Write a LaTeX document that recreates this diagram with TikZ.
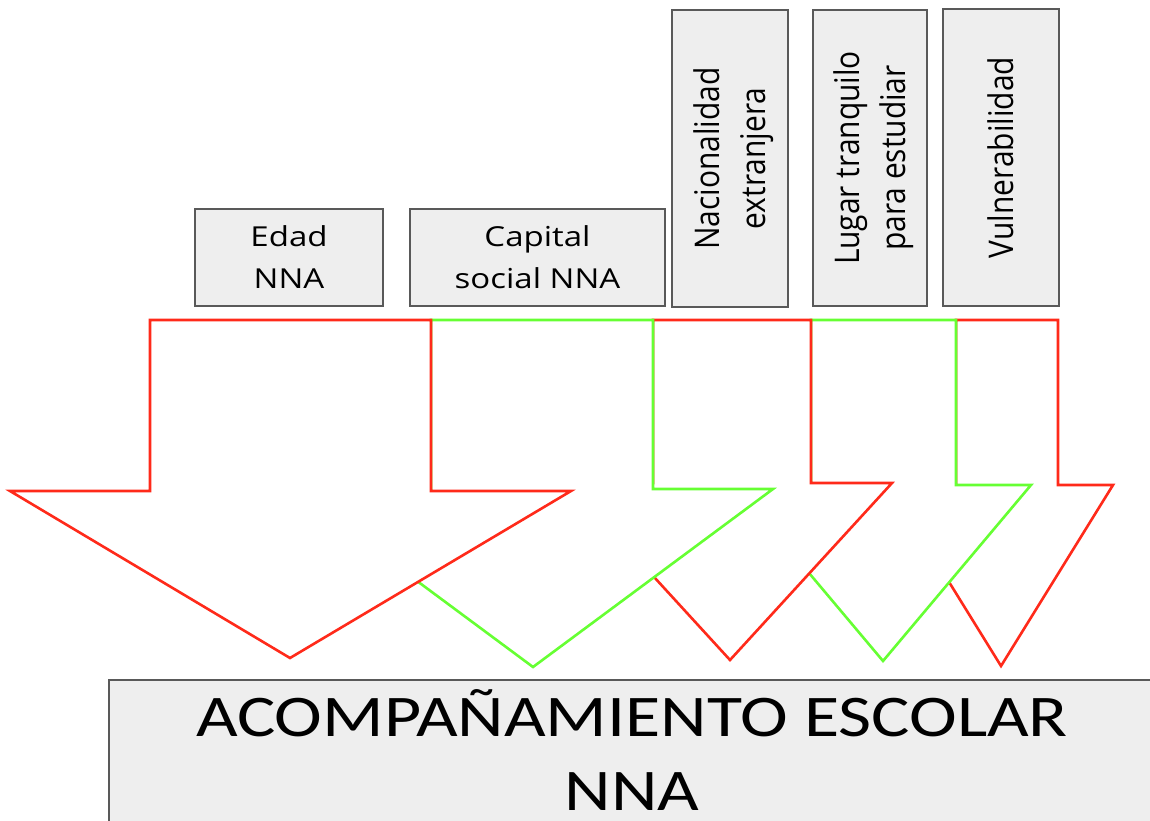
\documentclass[tikz,border=0pt]{standalone}
\usepackage{fontspec}
\usepackage{tikz}
\newfontfamily\boxfont[FakeStretch=1.2]{Open Sans}
\newfontfamily\sidefont[FakeStretch=0.88]{Open Sans}
\newfontfamily\bigfont[FakeStretch=1.22]{Carlito}
\definecolor{arrowred}{HTML}{FF2A1A}
\definecolor{arrowgreen}{HTML}{66FF33}
\definecolor{boxfill}{HTML}{EEEEEE}
\definecolor{boxline}{HTML}{595959}

\begin{document}
\begin{tikzpicture}[x=1pt, y=-1pt,
    factor/.style={draw=boxline, fill=boxfill, line width=2.5pt, inner sep=0pt, align=center},
    flatbox/.style={factor, font=\boxfont\fontsize{27.5}{42}\selectfont},
    sidebox/.style={factor, rotate=90, text depth=0pt, font=\sidefont\fontsize{34}{46}\selectfont}]
\useasboundingbox (0,0) rectangle (1150,821);
\clip (0,0) rectangle (1150,821);
% Draw block arrows, right to left
\foreach \col/\l/\r/\s/\wl/\wr/\tx/\ty in {arrowred/956/1058/485/889/1113/1001/666, arrowgreen/811/956/485/735/1031/883/661, arrowred/653/811/483/568/892/730/660, arrowgreen/431/653/489/293/773/533/667, arrowred/150/431/491/10/571/290/658}
    \filldraw[draw=\col, fill=white, line width=2.6pt] (\l,320) -- (\r,320) -- (\r,\s) -- (\wr,\s) -- (\tx,\ty) -- (\wl,\s) -- (\l,\s) -- cycle;
% Draw factor boxes
\node[flatbox, minimum width=188pt, minimum height=97pt] (edad) at (289,257.5) {Edad\\NNA};
\node[flatbox, minimum width=255pt, minimum height=97pt] (capital) at (537.5,257.5) {Capital\\social NNA};
\node[sidebox, minimum width=297pt, minimum height=116pt] (nacionalidad) at (730,158.5) {Nacionalidad\\extranjera};
\node[sidebox, minimum width=296pt, minimum height=114pt] (lugar) at (870,158) {Lugar tranquilo\\para estudiar};
\node[sidebox, minimum width=297pt, minimum height=116pt] (vulnerabilidad) at (1001,157.5) {Vulnerabilidad};
% Draw result box
\node[factor, font=\bigfont\fontsize{59}{74}\selectfont, anchor=base, minimum width=1046pt, text height=114pt, text depth=20pt, inner ysep=16pt] (acompanamiento) at (632,810) {ACOMPAÑAMIENTO ESCOLAR\\NNA};
\end{tikzpicture}
\end{document}
